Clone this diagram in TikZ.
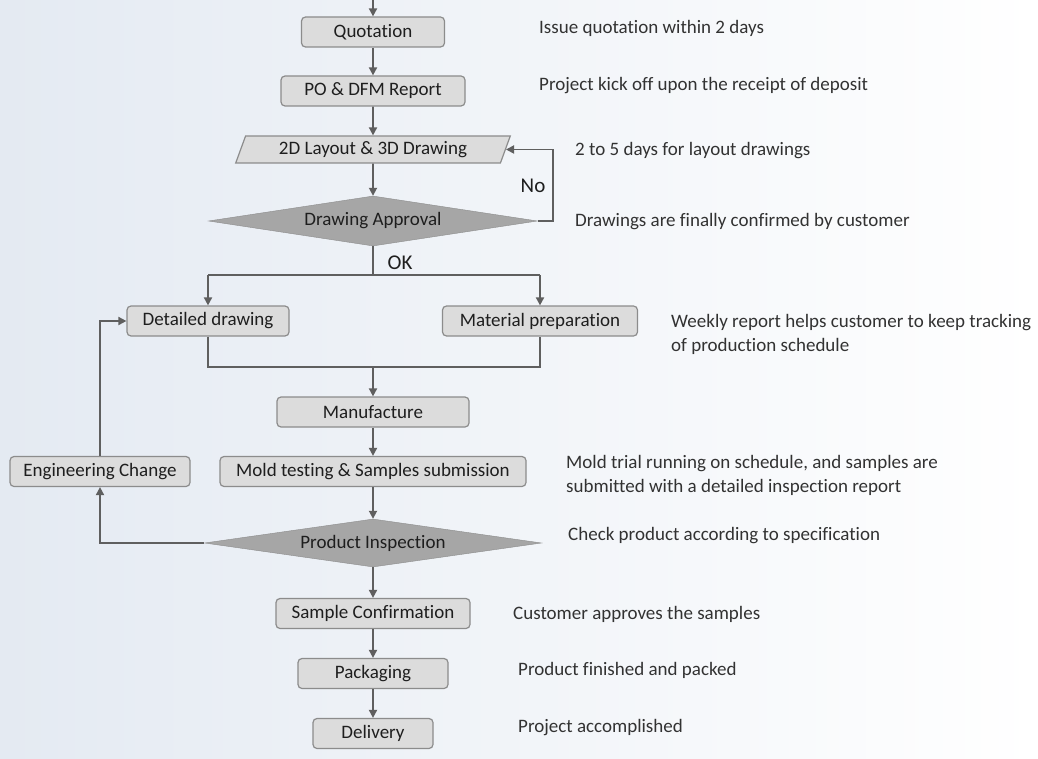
\documentclass[tikz,border=0pt]{standalone}
\usepackage{fontspec}
\setmainfont{Carlito}[Ligatures=NoCommon]
\usetikzlibrary{shapes.geometric,arrows.meta}
\definecolor{boxfill}{RGB}{220,220,220}
\definecolor{boxline}{RGB}{140,140,140}
\definecolor{decfill}{RGB}{166,166,166}
\definecolor{wire}{RGB}{95,95,95}
\definecolor{ink}{RGB}{30,30,30}
\definecolor{note}{RGB}{50,50,50}
\definecolor{bgleft}{RGB}{228,234,242}

\begin{document}
\begin{tikzpicture}[x=1pt,y=-1pt]
    \tikzset{stepbox/.style={draw=boxline, fill=boxfill, rounded corners=4pt,
            line width=1.2pt, minimum height=30pt, inner sep=0pt, text=ink,
            font=\fontsize{19}{21}\selectfont},
        decision/.style={diamond, draw=boxline, fill=decfill, aspect=6.6,
            inner sep=0pt, text=ink, font=\fontsize{19}{21}\selectfont},
        datain/.style={trapezium, trapezium left angle=66, trapezium right angle=114,
            trapezium stretches=true, draw=boxline, fill=boxfill, line width=1.2pt,
            inner sep=0pt, text=ink, font=\fontsize{19}{21}\selectfont},
        remark/.style={anchor=west, align=left, text=note, inner sep=0pt,
            font=\fontsize{19}{24}\selectfont},
        answer/.style={text=ink, font=\fontsize{21}{23}\selectfont},
        flow/.style={draw=wire, line width=1.8pt, -{Triangle[length=8pt,width=8pt]}},
        link/.style={draw=wire, line width=1.8pt}}
    \useasboundingbox[left color=bgleft, right color=white] (0,0) rectangle (1038,759);

    % main column
    \coordinate (start) at (373,0);
    \node[stepbox, minimum width=143pt] (quo) at (373,32) {Quotation};
    \node[stepbox, minimum width=184pt] (po) at (373,91) {PO \& DFM Report};
    \node[datain, minimum width=275pt, minimum height=27pt] (lay) at (373,149.5) {2D Layout \& 3D Drawing};
    \node[decision, minimum width=329pt, minimum height=50pt] (appr) at (373,221) {Drawing Approval};
    \coordinate (split) at (373,275);
    \node[stepbox, minimum width=162pt] (det) at (208,321) {Detailed drawing};
    \node[stepbox, minimum width=195pt] (mat) at (540,321) {Material preparation};
    \coordinate (join) at (373,367);
    \node[stepbox, minimum width=192pt] (man) at (373,412) {Manufacture};
    \node[stepbox, minimum width=306pt] (mold) at (373,471.5) {Mold testing \& Samples submission};
    \node[stepbox, minimum width=180pt] (eng) at (100,471.5) {Engineering Change};
    \node[decision, minimum width=337pt, minimum height=48pt] (insp) at (373,543) {Product Inspection};
    \node[stepbox, minimum width=194pt] (samp) at (373,613.5) {Sample Confirmation};
    \node[stepbox, minimum width=150pt] (pack) at (373,673.5) {Packaging};
    \node[stepbox, minimum width=120pt] (del) at (373,733.5) {Delivery};

    % connectors
    \draw[flow] (start) -- (quo);
    \draw[flow] (quo) -- (po);
    \draw[flow] (po) -- (lay);
    \draw[flow] (lay) -- (appr);
    \draw[link] (appr.south) -- (split);
    \draw[flow] (appr.east) -- ++(15,0) |- (lay.east);
    \draw[link] (det.north |- split) -- (mat.north |- split);
    \draw[flow] (det.north |- split) -- (det.north);
    \draw[flow] (mat.north |- split) -- (mat.north);
    \draw[link] (det.south) |- (join) -| (mat.south);
    \draw[flow] (join) -- (man);
    \draw[flow] (man) -- (mold);
    \draw[flow] (mold) -- (insp);
    \draw[flow] (insp.west) -| (eng.south);
    \draw[flow] (eng.north) |- (det.west);
    \draw[flow] (insp.south) -- (samp.north);
    \draw[flow] (samp) -- (pack);
    \draw[flow] (pack) -- (del);
    \node[answer] (no) at (533,186) {No};
    \node[answer] (ok) at (400,263) {OK};

    % remarks
    \node[remark] (r1) at (539,28) {Issue quotation within 2 days};
    \node[remark] (r2) at (539,86) {Project kick off upon the receipt of deposit};
    \node[remark] (r3) at (575,151) {2 to 5 days for layout drawings};
    \node[remark] (r4) at (575,222) {Drawings are finally confirmed by customer};
    \node[remark] (r5) at (671,334) {Weekly report helps customer to keep tracking\\of production schedule};
    \node[remark] (r6) at (566,475) {Mold trial running on schedule, and samples are\\submitted with a detailed inspection report};
    \node[remark] (r7) at (568,536) {Check product according to specification};
    \node[remark] (r8) at (513,614) {Customer approves the samples};
    \node[remark] (r9) at (518,670) {Product finished and packed};
    \node[remark] (r10) at (518,728) {Project accomplished};
\end{tikzpicture}
\end{document}
